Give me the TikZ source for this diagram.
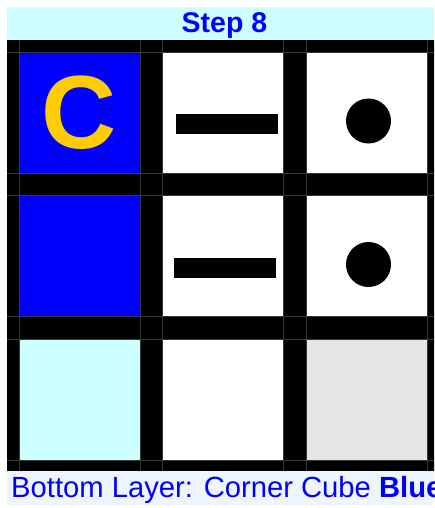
\documentclass[tikz,border=0pt]{standalone}
\usepackage{fontspec}
\setmainfont{Liberation Sans}
\definecolor{titlebg}{RGB}{204,255,255}
\definecolor{footbg}{RGB}{238,245,255}
\definecolor{cellblue}{RGB}{0,0,255}
\definecolor{cellcyan}{RGB}{204,255,255}
\definecolor{cellgray}{RGB}{229,229,229}
\definecolor{letteryellow}{RGB}{255,204,0}
\definecolor{gridline}{RGB}{55,55,55}
\tikzset{
  cell/.style={anchor=north west, minimum width=121pt, minimum height=121pt, inner sep=0pt, outer sep=0pt, draw=gridline, line width=0.3pt},
  barmark/.style={fill=black, draw=none, inner sep=0pt, minimum width=102pt, minimum height=20pt},
  dotmark/.style={circle, fill=black, draw=none, inner sep=0pt, minimum size=45pt},
}
\begin{document}
\begin{tikzpicture}[x=1pt,y=-1pt]
\useasboundingbox (0,0) rectangle (434,508);
\clip (0,0) rectangle (434,508);
\fill[white] (0,0) rectangle (434,508);
% title band
\fill[titlebg] (7,7) rectangle (442,40);
\node[text=cellblue, font=\fontsize{28.5}{30}\selectfont\bfseries, anchor=base, inner sep=0pt] (title) at (224.5,33) {Step 8};
% black grid background
\fill[black] (7,40) rectangle (442,471);
% faint grid lines
\foreach \x in {19,140,162,283,306,427} \draw[gridline, line width=0.3pt] (\x,40) -- (\x,471);
\foreach \y in {52,173,195,316,339,460} \draw[gridline, line width=0.3pt] (7,\y) -- (442,\y);
% cells
\node[cell, fill=cellblue] (c11) at (19,52) {};
\node[cell, fill=white] (c12) at (162,52) {};
\node[cell, fill=white] (c13) at (306,52) {};
\node[cell, fill=cellblue] (c21) at (19,195.5) {};
\node[cell, fill=white] (c22) at (162,195.5) {};
\node[cell, fill=white] (c23) at (306,195.5) {};
\node[cell, fill=cellcyan] (c31) at (19,339) {};
\node[cell, fill=white] (c32) at (162,339) {};
\node[cell, fill=cellgray] (c33) at (306,339) {};
% marks
\node[text=letteryellow, font=\fontsize{104}{110}\selectfont\bfseries, inner sep=0pt] (letter) at (c11.center) {C};
\node[barmark] (bar1) at (227,124) {};
\node[barmark] (bar2) at (225,268) {};
\node[dotmark] (dot1) at (368.5,121) {};
\node[dotmark] (dot2) at (368.5,264.5) {};
% footer band
\fill[footbg] (7,471) rectangle (442,505);
\node[text=cellblue, font=\fontsize{29.2}{31}\selectfont, anchor=base west, inner sep=0pt] (footer) at (11,497) {Bottom Layer: Corner Cube \textbf{Blue}};
\end{tikzpicture}
\end{document}
